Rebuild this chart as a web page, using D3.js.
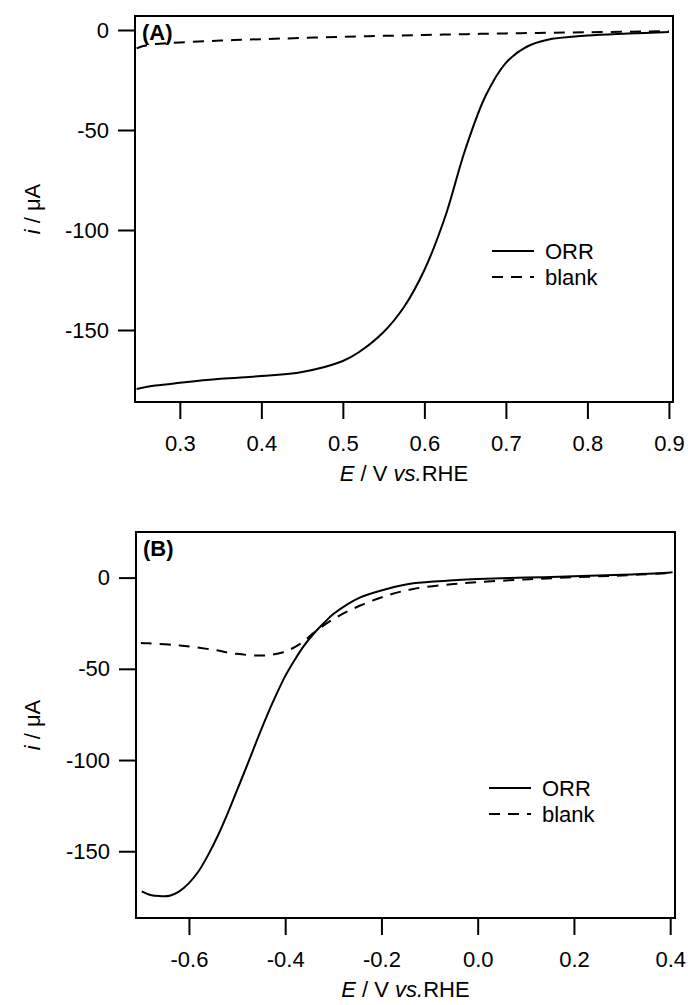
<!DOCTYPE html>
<html>
<head>
<meta charset="utf-8">
<script src="https://cdn.jsdelivr.net/npm/d3@7"></script>
<style>
  body { margin: 0; background: #fff; }
  text { font-family: "Liberation Sans", Arial, sans-serif; fill: #000; }
</style>
</head>
<body>
<div id="chart"></div>
<script>
// panel A data (E in V vs RHE, i in uA)
let orrA_E = [0.247, 0.27, 0.3, 0.35, 0.4, 0.45, 0.5, 0.52, 0.55, 0.575, 0.6, 0.625, 0.65, 0.675, 0.7, 0.725, 0.75, 0.8, 0.85, 0.9];
let orrA_i = [-179.5, -177.8, -176.4, -174.4, -173, -171, -165.5, -161, -151, -138.5, -120, -94, -60, -33, -16.4, -8.5, -5, -2.8, -1.8, -1];
let blankA_E = [0.247, 0.255, 0.27, 0.3, 0.35, 0.4, 0.5, 0.6, 0.7, 0.8, 0.9];
let blankA_i = [-9.2, -8, -7, -6.2, -5.3, -4.6, -3.4, -2.5, -1.7, -1.1, -0.6];

// panel B data
let orrB_E = [-0.698, -0.68, -0.66, -0.64, -0.62, -0.6, -0.58, -0.56, -0.54, -0.52, -0.5, -0.48, -0.46, -0.44, -0.42, -0.4, -0.38, -0.36, -0.34, -0.32, -0.3, -0.27, -0.244, -0.189, -0.134, -0.05, 0.0, 0.1, 0.2, 0.3, 0.4, 0.405];
let orrB_i = [-172, -174, -174.6, -174.4, -172, -167.5, -161, -152, -141.5, -129.5, -116.5, -103.5, -90, -77, -65, -54, -45, -37, -30.5, -25, -20, -14.5, -10.8, -6.2, -3.1, -1.5, -0.8, 0, 0.7, 1.5, 2.8, 3];
let blankB_E = [-0.7, -0.685, -0.619, -0.549, -0.501, -0.446, -0.404, -0.369, -0.335, -0.293, -0.244, -0.189, -0.134, -0.05, 0.0, 0.1, 0.2, 0.3, 0.4, 0.405];
let blankB_i = [-35.8, -36, -37.2, -39.6, -41.8, -42.7, -40.9, -36.3, -29, -21.7, -15.3, -9.9, -6.2, -3.5, -2.5, -1, 0.2, 1.2, 2.6, 2.8];

// ticks
let yTicks = [0, -50, -100, -150];
let xTicksA = [0.3, 0.4, 0.5, 0.6, 0.7, 0.8, 0.9];
let xTicksB = [-0.6, -0.4, -0.2, 0.0, 0.2, 0.4];
let seriesNames = ["ORR", "blank"];

let width = 688;
let height = 1005;

let svg = d3.select("div#chart").append("svg")
    .attr("width", width)
    .attr("height", height);

let zip = (xs, ys) => xs.map((x, k) => ({x: x, y: ys[k]}));
// plain hyphen instead of the unicode minus d3 uses
let fmtY = d => d3.format("d")(d).replace("\u2212", "-");
let fmtX = d => d3.format(".1f")(d).replace("\u2212", "-");

function drawPanel(p) {
    let x = d3.scaleLinear().domain(p.xDomain).range([p.left, p.right]);
    let y = d3.scaleLinear().domain(p.yDomain).range([p.bottom, p.top]);

    let g = svg.append("g");

    // y axis
    g.append("g")
        .attr("transform", "translate(" + p.left + ",0)")
        .call(d3.axisLeft(y).tickValues(yTicks).tickSize(17).tickPadding(9).tickFormat(fmtY))
        .call(a => a.select(".domain").remove())
        .call(a => a.selectAll("line").attr("stroke-width", 2))
        .call(a => a.selectAll("text").attr("font-size", 22).attr("font-family", "Liberation Sans, Arial, sans-serif"));

    // x axis
    g.append("g")
        .attr("transform", "translate(0," + p.bottom + ")")
        .call(d3.axisBottom(x).tickValues(p.xTicks).tickSize(17).tickPadding(16).tickFormat(fmtX))
        .call(a => a.select(".domain").remove())
        .call(a => a.selectAll("line").attr("stroke-width", 2))
        .call(a => a.selectAll("text").attr("font-size", 22).attr("font-family", "Liberation Sans, Arial, sans-serif"));

    // frame
    g.append("rect")
        .attr("x", p.left)
        .attr("y", p.top)
        .attr("width", p.right - p.left)
        .attr("height", p.bottom - p.top)
        .attr("fill", "none")
        .attr("stroke", "black")
        .attr("stroke-width", 2);

    let line = d3.line()
        .x(d => x(d.x))
        .y(d => y(d.y))
        .curve(d3.curveCatmullRom.alpha(0.5));

    g.append("path")
        .datum(zip(p.blankE, p.blankI))
        .attr("d", line)
        .attr("fill", "none")
        .attr("stroke", "black")
        .attr("stroke-width", 2)
        .attr("stroke-dasharray", "11,8");

    g.append("path")
        .datum(zip(p.orrE, p.orrI))
        .attr("d", line)
        .attr("fill", "none")
        .attr("stroke", "black")
        .attr("stroke-width", 2);

    // panel label
    g.append("text")
        .attr("x", p.left + 7)
        .attr("y", p.top + 24)
        .attr("font-size", 22)
        .attr("font-weight", "bold")
        .text(p.label);

    // axis titles
    let xt = g.append("text")
        .attr("x", (p.left + p.right) / 2)
        .attr("y", p.bottom + 79)
        .attr("text-anchor", "middle")
        .attr("font-size", 22);
    xt.append("tspan").attr("font-style", "italic").text("E");
    xt.append("tspan").text(" / V ");
    xt.append("tspan").attr("font-style", "italic").text("vs.");
    xt.append("tspan").text("RHE");

    let yt = g.append("text")
        .attr("transform", "translate(40," + ((p.top + p.bottom) / 2) + ") rotate(-90)")
        .attr("text-anchor", "middle")
        .attr("font-size", 22);
    yt.append("tspan").attr("font-style", "italic").text("i");
    yt.append("tspan").text(" / \u03bcA");

    // legend
    seriesNames.forEach((name, k) => {
        let ly = p.legendY + k * 26;
        g.append("line")
            .attr("x1", p.legendX)
            .attr("x2", p.legendX + 42)
            .attr("y1", ly)
            .attr("y2", ly)
            .attr("stroke", "black")
            .attr("stroke-width", 2)
            .attr("stroke-dasharray", k === 0 ? null : "11,8");
        g.append("text")
            .attr("x", p.legendX + 53)
            .attr("y", ly + 8)
            .attr("font-size", 22)
            .text(name);
    });
}

drawPanel({
    label: "(A)",
    left: 135, right: 673, top: 16, bottom: 402,
    xDomain: [0.245, 0.905], yDomain: [-186, 7],
    xTicks: xTicksA,
    orrE: orrA_E, orrI: orrA_i, blankE: blankA_E, blankI: blankA_i,
    legendX: 492, legendY: 251
});

drawPanel({
    label: "(B)",
    left: 136, right: 675, top: 532, bottom: 918,
    xDomain: [-0.71, 0.41], yDomain: [-186.6, 25],
    xTicks: xTicksB,
    orrE: orrB_E, orrI: orrB_i, blankE: blankB_E, blankI: blankB_i,
    legendX: 489, legendY: 788
});
</script>
</body>
</html>
